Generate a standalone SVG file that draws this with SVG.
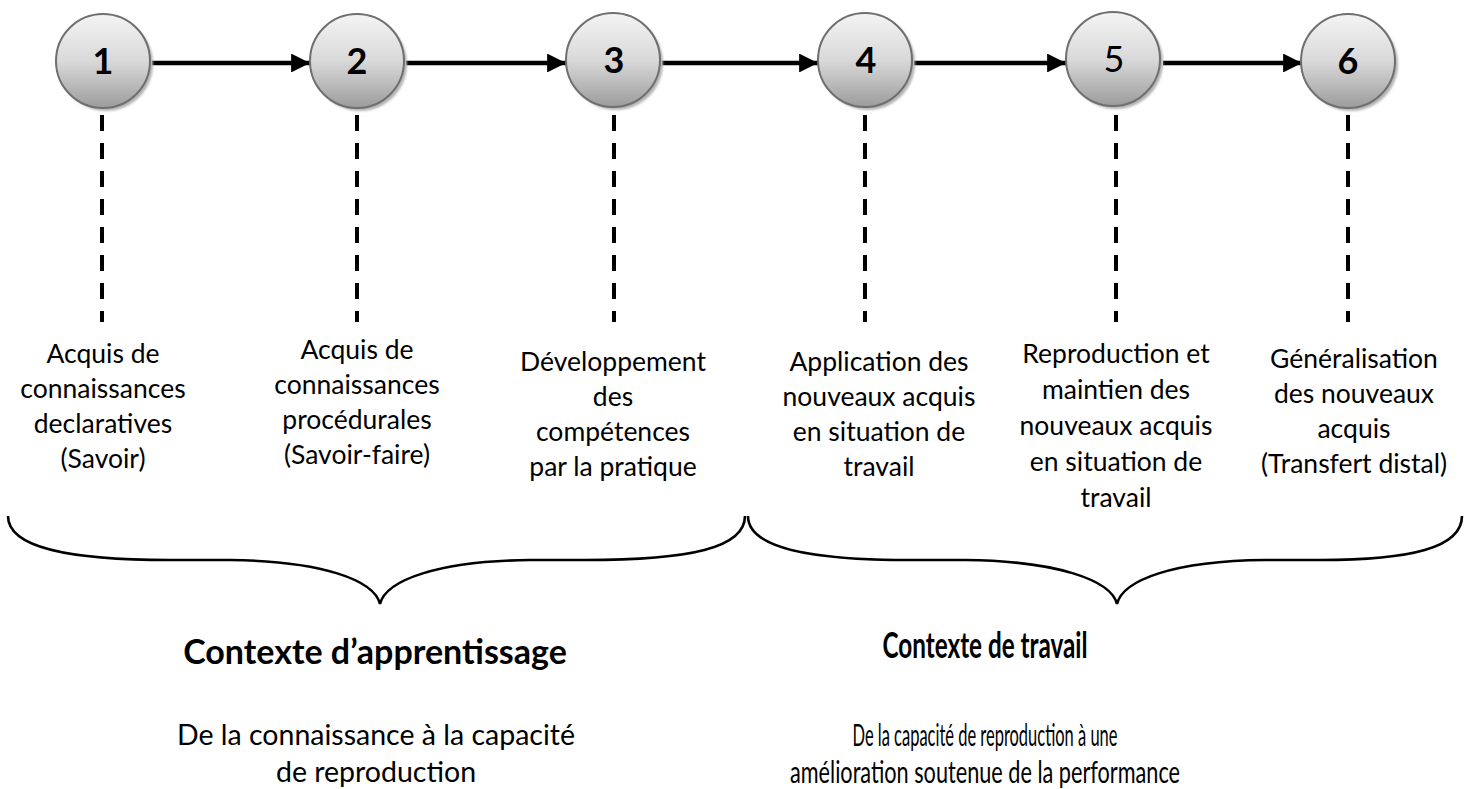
<svg xmlns="http://www.w3.org/2000/svg" width="1469" height="789" viewBox="0 0 1469 789">
  <defs>
    <linearGradient id="ball" x1="0" y1="0" x2="0" y2="1">
      <stop offset="0" stop-color="#f4f4f4"/>
      <stop offset="0.5" stop-color="#d9d9d9"/>
      <stop offset="1" stop-color="#9c9c9c"/>
    </linearGradient>
    <filter id="soft" x="-20%" y="-20%" width="140%" height="140%">
      <feGaussianBlur stdDeviation="1.2"/>
    </filter>
    <marker id="head" viewBox="0 0 10 10" refX="10" refY="5" markerWidth="4.2" markerHeight="4.2" orient="auto" markerUnits="strokeWidth">
      <path d="M0,0 L10,5 L0,10 z" fill="#000"/>
    </marker>
    <style>
      .shadow { fill: #b4b4b4; filter: url(#soft); }
      .disc { fill: url(#ball); stroke: #6f6f6f; stroke-width: 2; }
      .num { font-family: Lato, "Liberation Sans", sans-serif; font-size: 36px; font-weight: bold; fill: #000; text-anchor: middle; }
      .num.plain { font-weight: normal; }
      .flow { stroke: #000; stroke-width: 4.5; fill: none; marker-end: url(#head); }
      .dash { stroke: #000; stroke-width: 4; stroke-dasharray: 16 12; fill: none; }
      .brace { stroke: #000; stroke-width: 2.6; fill: none; }
      .lbl { font-family: Lato, "Liberation Sans", sans-serif; font-size: 26.5px; fill: #000; text-anchor: middle; }
      .head { font-family: Lato, "Liberation Sans", sans-serif; font-size: 34px; font-weight: bold; fill: #000; text-anchor: middle; }
      .sub { font-family: Lato, "Liberation Sans", sans-serif; font-size: 28.5px; fill: #000; text-anchor: middle; }
      .narrow { font-size: 31px; }
      .head.narrow { font-size: 37px; }
    </style>
  </defs>

  <rect width="1469" height="789" fill="#fff"/>

  <!-- connectors: flow arrows between steps and dashed drop lines -->
  <g id="connectors">
    <line class="flow" x1="152" y1="63" x2="310" y2="63"/>
    <line class="flow" x1="406" y1="63" x2="566" y2="63"/>
    <line class="flow" x1="662" y1="63" x2="818" y2="63"/>
    <line class="flow" x1="914" y1="63" x2="1066" y2="63"/>
    <line class="flow" x1="1163" y1="63" x2="1302" y2="63"/>

    <line class="dash" x1="102" y1="115" x2="102" y2="322"/>
    <line class="dash" x1="357" y1="115" x2="357" y2="322"/>
    <line class="dash" x1="614" y1="115" x2="614" y2="322"/>
    <line class="dash" x1="865" y1="115" x2="865" y2="322"/>
    <line class="dash" x1="1116" y1="115" x2="1116" y2="322"/>
    <line class="dash" x1="1348" y1="115" x2="1348" y2="322"/>
  </g>

  <!-- step circles -->
  <g id="step1">
    <circle class="shadow" cx="106" cy="64" r="47"/>
    <circle class="disc" cx="103" cy="61" r="47"/>
    <text class="num" x="103" y="74">1</text>
  </g>
  <g id="step2">
    <circle class="shadow" cx="360" cy="64" r="47"/>
    <circle class="disc" cx="357" cy="61" r="47"/>
    <text class="num" x="357" y="74">2</text>
  </g>
  <g id="step3">
    <circle class="shadow" cx="616" cy="63" r="47"/>
    <circle class="disc" cx="613" cy="60" r="47"/>
    <text class="num" x="614" y="73">3</text>
  </g>
  <g id="step4">
    <circle class="shadow" cx="868" cy="63" r="47"/>
    <circle class="disc" cx="865" cy="60" r="47"/>
    <text class="num" x="866" y="73">4</text>
  </g>
  <g id="step5">
    <circle class="shadow" cx="1116" cy="62" r="47"/>
    <circle class="disc" cx="1113" cy="59" r="47"/>
    <text class="num plain" x="1114" y="72">5</text>
  </g>
  <g id="step6">
    <circle class="shadow" cx="1351" cy="64" r="47"/>
    <circle class="disc" cx="1348" cy="61" r="47"/>
    <text class="num" x="1348" y="74">6</text>
  </g>

  <!-- step descriptions -->
  <g id="label1">
    <text class="lbl" x="103" y="363">Acquis de</text>
    <text class="lbl" x="103" y="398">connaissances</text>
    <text class="lbl" x="103" y="433">declaratives</text>
    <text class="lbl" x="103" y="468">(Savoir)</text>
  </g>
  <g id="label2">
    <text class="lbl" x="357" y="359">Acquis de</text>
    <text class="lbl" x="357" y="394">connaissances</text>
    <text class="lbl" x="357" y="429">procédurales</text>
    <text class="lbl" x="357" y="464">(Savoir-faire)</text>
  </g>
  <g id="label3">
    <text class="lbl" x="613" y="371">Développement</text>
    <text class="lbl" x="613" y="406">des</text>
    <text class="lbl" x="613" y="441">compétences</text>
    <text class="lbl" x="613" y="476">par la pratique</text>
  </g>
  <g id="label4">
    <text class="lbl" x="879" y="371">Application des</text>
    <text class="lbl" x="879" y="406">nouveaux acquis</text>
    <text class="lbl" x="879" y="441">en situation de</text>
    <text class="lbl" x="879" y="476">travail</text>
  </g>
  <g id="label5">
    <text class="lbl" x="1116" y="363">Reproduction et</text>
    <text class="lbl" x="1116" y="399">maintien des</text>
    <text class="lbl" x="1116" y="435">nouveaux acquis</text>
    <text class="lbl" x="1116" y="471">en situation de</text>
    <text class="lbl" x="1116" y="507">travail</text>
  </g>
  <g id="label6">
    <text class="lbl" x="1354" y="368">Généralisation</text>
    <text class="lbl" x="1354" y="403">des nouveaux</text>
    <text class="lbl" x="1354" y="438">acquis</text>
    <text class="lbl" x="1354" y="473">(Transfert distal)</text>
  </g>

  <!-- grouping braces -->
  <g id="brace-learning">
    <path class="brace" d="M8,516 C8,548 70,560 170,560 L230,560 C322,561 374,580 380,604 C386,580 438,561 530,560 L585,560 C690,560 745,548 745,516"/>
  </g>
  <g id="brace-work">
    <path class="brace" d="M748,516 C748,548 810,560 910,560 L965,560 C1057,561 1111,580 1117,604 C1123,580 1173,561 1265,560 L1320,560 C1410,560 1462,548 1462,516"/>
  </g>

  <!-- context captions -->
  <g id="context-learning">
    <text class="head" x="375" y="664">Contexte d’apprentissage</text>
    <text class="sub" x="376" y="745">De la connaissance à la capacité</text>
    <text class="sub" x="376" y="782">de reproduction</text>
  </g>
  <g id="context-work">
    <text class="head narrow" x="985" y="658" textLength="205" lengthAdjust="spacingAndGlyphs">Contexte de travail</text>
    <text class="sub narrow" x="985" y="746" textLength="265" lengthAdjust="spacingAndGlyphs">De la capacité de reproduction à une</text>
    <text class="sub narrow" x="985" y="783" textLength="390" lengthAdjust="spacingAndGlyphs">amélioration soutenue de la performance</text>
  </g>
</svg>
